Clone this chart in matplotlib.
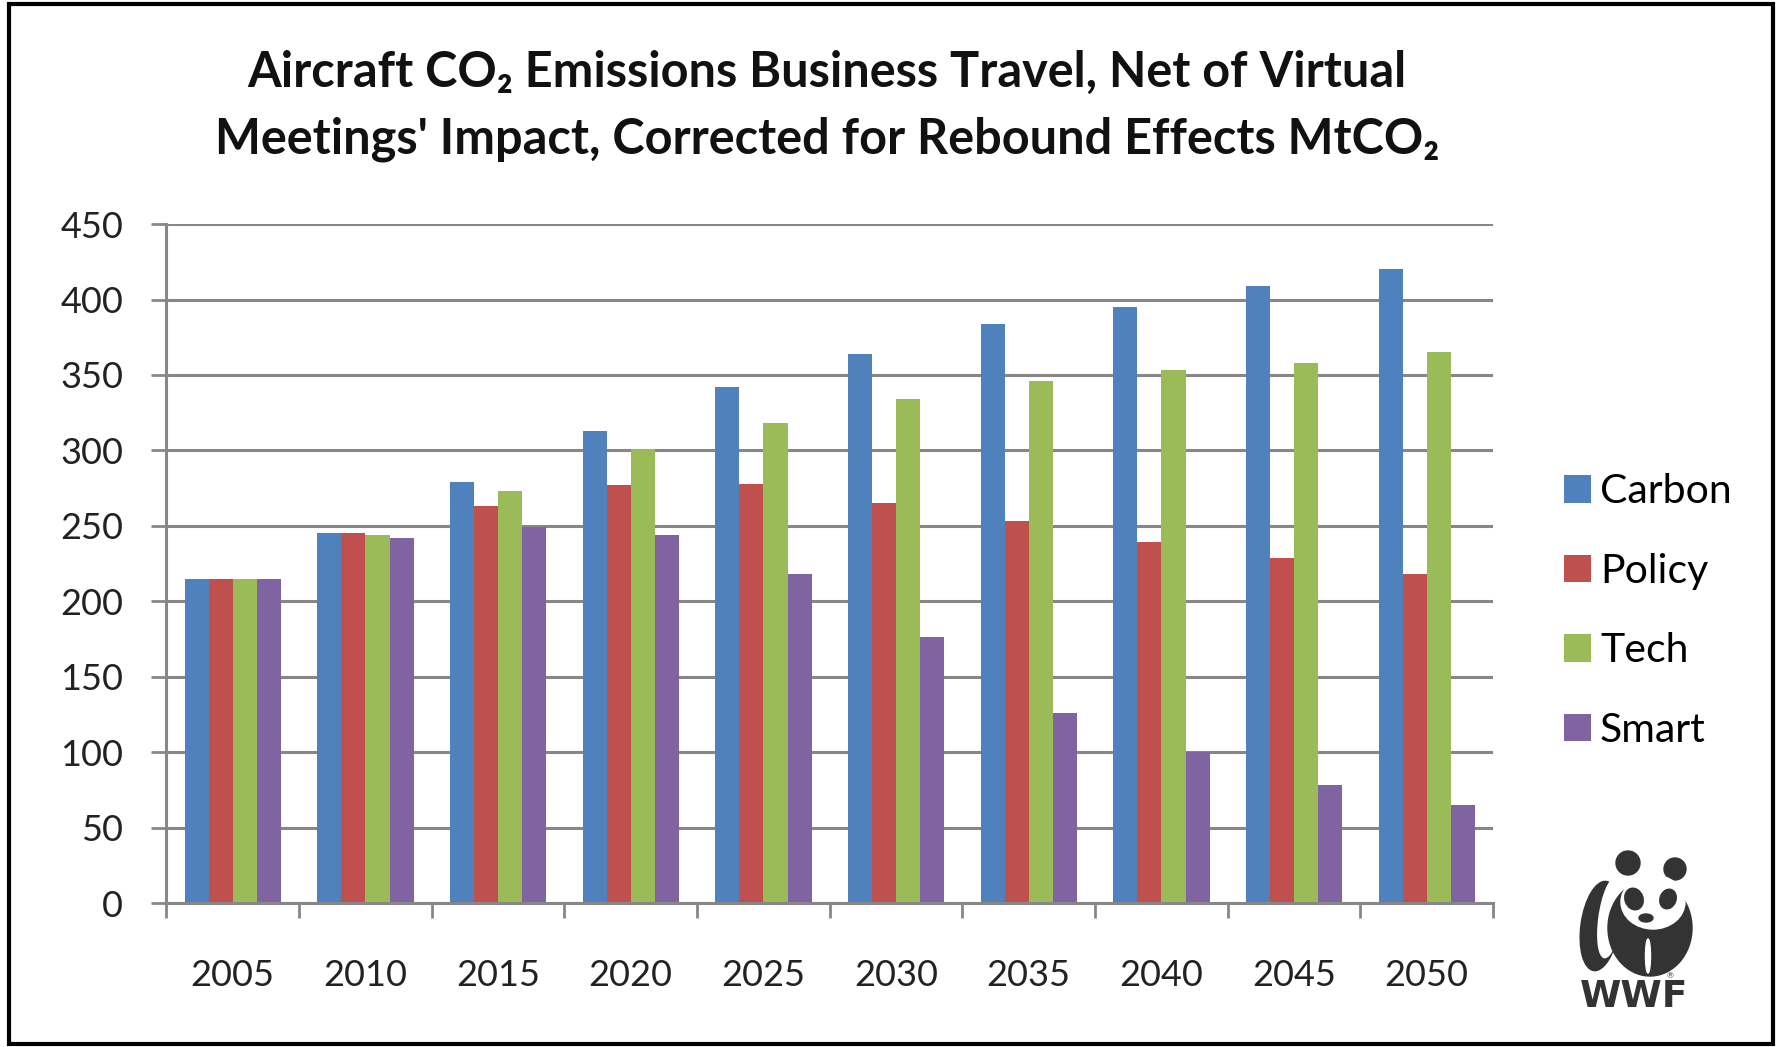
import numpy as np
import matplotlib
matplotlib.use("Agg")
from matplotlib import pyplot as plt
from matplotlib.patches import Rectangle, Ellipse, Circle

###################### data #############################
years = ["2005", "2010", "2015", "2020", "2025", "2030", "2035", "2040", "2045", "2050"]
series = ["Carbon", "Policy", "Tech", "Smart"]
carbon = [215, 245, 279, 313, 342, 364, 384, 395, 409, 420]
policy = [215, 245, 263, 277, 278, 265, 253, 239, 229, 218]
tech = [215, 244, 273, 301, 318, 334, 346, 353, 358, 365]
smart = [215, 242, 249, 244, 218, 176, 126, 100, 78, 65]
yticks = [0, 50, 100, 150, 200, 250, 300, 350, 400, 450]

colors = ["#4F81BD", "#C0504D", "#9BBB59", "#8064A2"]
grid_col = "#878787"
title = "Aircraft CO\u2082 Emissions Business Travel, Net of Virtual\nMeetings' Impact, Corrected for Rebound Effects MtCO\u2082"

plt.rcParams['font.family'] = ['Lato', 'DejaVu Sans']

######################### figure #########################
fig = plt.figure(figsize=(17.76, 10.47), dpi=100)
ax = fig.add_axes([0.0937, 0.1375, 0.747, 0.6485])

x = np.arange(len(years))
w = 1 / 5.5
bars = []
for i, (name, vals) in enumerate(zip(series, [carbon, policy, tech, smart])):
    b = ax.bar(x + (i - 1.5) * w, vals, width=w, color=colors[i], label=name,
               zorder=3, linewidth=0)
    bars.append(b)

ax.set_xlim(-0.5, len(years) - 0.5)
ax.set_ylim(0, 450)
ax.set_yticks(yticks)
ax.set_yticklabels([str(v) for v in yticks], fontsize=26, color="#222222")
ax.set_xticks(x)
ax.set_xticklabels(years, fontsize=26, color="#222222")
ax.set_xticks(np.arange(len(years) + 1) - 0.5, minor=True)
ax.tick_params(axis="x", which="major", length=0, pad=40)
ax.tick_params(axis="x", which="minor", length=11, width=2, color=grid_col, direction="out")
ax.tick_params(axis="y", length=11, width=2, color=grid_col, direction="out", pad=20)

ax.yaxis.grid(True, color=grid_col, linewidth=2.2, zorder=0)
ax.set_axisbelow(True)
for s in ["top", "right"]:
    ax.spines[s].set_visible(False)
for s in ["left", "bottom"]:
    ax.spines[s].set_color(grid_col)
    ax.spines[s].set_linewidth(2.2)
    ax.spines[s].set_zorder(4)

fig.text(0.4656, 0.899, title, ha="center", va="center", fontsize=35,
         fontweight="bold", linespacing=1.6, color="#111111")

fig.legend(handles=bars, labels=series, loc="center left",
           bbox_to_anchor=(0.8806, 0.4164), frameon=False, fontsize=29.5,
           handlelength=0.66, handleheight=0.66, handletextpad=0.22,
           labelspacing=1.04, borderpad=0, borderaxespad=0)

# outer frame
fig.patches.append(Rectangle((0.005, 0.003), 0.9935, 0.993, transform=fig.transFigure,
                             fill=False, edgecolor="black", linewidth=3))

######################## panda logo ######################
lg = fig.add_axes([1570 / 1776, 37 / 1047, 130 / 1776, 165 / 1047])
lg.set_xlim(0, 130)
lg.set_ylim(0, 165)
lg.axis("off")
dark = "#333333"
lg.add_patch(Circle((58, 147), 12, color=dark))
lg.add_patch(Circle((105, 141), 11, color=dark))
lg.add_patch(Ellipse((30, 84), 38, 90, angle=-8, color=dark))
lg.add_patch(Ellipse((40, 92), 22, 80, angle=-8, color="white"))
lg.add_patch(Ellipse((80, 82), 84, 96, color=dark))
lg.add_patch(Ellipse((83, 108), 64, 54, color="white"))
lg.add_patch(Ellipse((64, 111), 18, 22, angle=20, color=dark))
lg.add_patch(Ellipse((98, 111), 16, 20, angle=-20, color=dark))
lg.add_patch(Ellipse((76, 92), 14, 8, color=dark))
lg.add_patch(Ellipse((78, 54), 5, 34, color="white"))
lg.text(64, 13, "WWF", ha="center", va="center", fontsize=27, fontweight="heavy",
        family="DejaVu Sans", color=dark)
lg.text(20, 44, "\u00ae", ha="center", va="center", fontsize=6, color=dark)
lg.text(100, 34, "\u00ae", ha="center", va="center", fontsize=6, color=dark)

fig.savefig("out.png", dpi=100)
